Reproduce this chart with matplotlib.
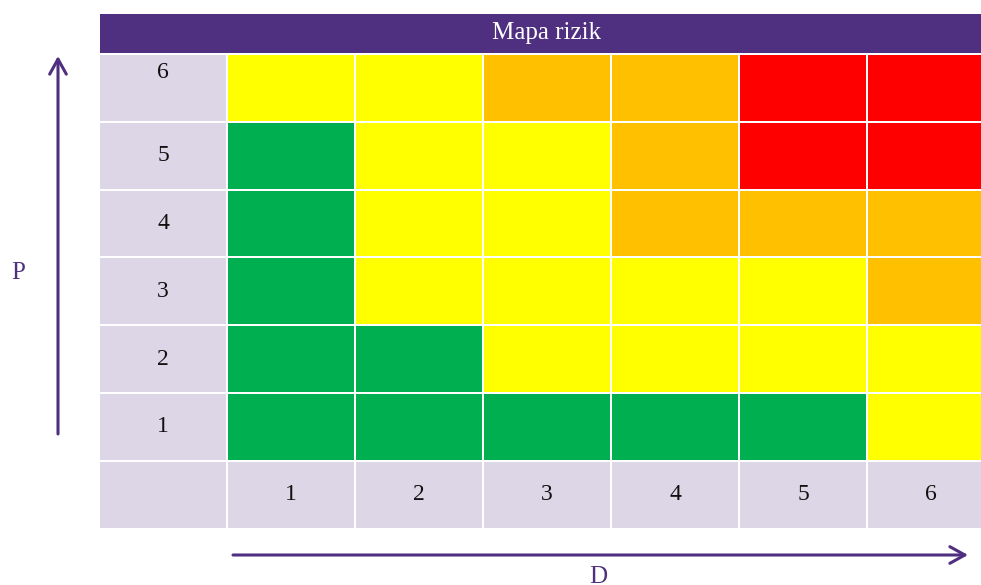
import matplotlib
matplotlib.use("Agg")
import matplotlib.pyplot as plt
from matplotlib.patches import Rectangle, FancyArrowPatch

title = "Mapa rizik"
row_labels = ["6", "5", "4", "3", "2", "1"]
col_labels = ["1", "2", "3", "4", "5", "6"]
y_axis_label = "P"
x_axis_label = "D"

# risk level per cell, rows top (6) to bottom (1)
levels = [
    ["Y", "Y", "O", "O", "R", "R"],
    ["G", "Y", "Y", "O", "R", "R"],
    ["G", "Y", "Y", "O", "O", "O"],
    ["G", "Y", "Y", "Y", "Y", "O"],
    ["G", "G", "Y", "Y", "Y", "Y"],
    ["G", "G", "G", "G", "G", "Y"],
]
palette = {"G": "#00B050", "Y": "#FFFF00", "O": "#FFC000", "R": "#FF0000"}

purple = "#4F2F7F"
lavender = "#DCD6E6"
font = ["Liberation Serif", "DejaVu Serif"]

W, H = 981, 585
fig = plt.figure(figsize=(W / 100, H / 100), dpi=100)
ax = fig.add_axes([0, 0, 1, 1])
ax.set_xlim(0, W)
ax.set_ylim(H, 0)
ax.axis("off")

left, top_hdr, hdr_h = 100, 14, 39
first_w, col_pitch = 126, 128
row_top, row_pitch = 55, 67.8
gap = 2

# header
ax.add_patch(Rectangle((left, top_hdr), W - left, hdr_h, color=purple, lw=0))
ax.text(546, top_hdr + hdr_h / 2, title, color="white",
        ha="center", va="center", fontsize=18, family=font)

n_rows = len(row_labels)
for r, lab in enumerate(row_labels):
    y = row_top + r * row_pitch
    h = row_pitch - gap
    ax.add_patch(Rectangle((left, y), first_w, h, color=lavender, lw=0))
    ty = y + 18 if r == 0 else y + h / 2
    ax.text(left + first_w / 2, ty, lab, ha="center", va="center",
            fontsize=17, family=font, color="#111111")
    for c, lvl in enumerate(levels[r]):
        x = left + first_w + gap + c * col_pitch
        ax.add_patch(Rectangle((x, y), col_pitch - gap, h, color=palette[lvl], lw=0))

# bottom label row
y = row_top + n_rows * row_pitch
h = row_pitch - gap
ax.add_patch(Rectangle((left, y), first_w, h, color=lavender, lw=0))
for c, lab in enumerate(col_labels):
    x = left + first_w + gap + c * col_pitch
    ax.add_patch(Rectangle((x, y), col_pitch - gap, h, color=lavender, lw=0))
    ax.text(x + (col_pitch - gap) / 2, y + h / 2, lab, ha="center", va="center",
            fontsize=17, family=font, color="#111111")

# axis arrows
arrow_kw = dict(arrowstyle="->,head_length=0.9,head_width=0.5", color=purple, lw=2.2,
                mutation_scale=12, shrinkA=0, shrinkB=0)
ax.add_patch(FancyArrowPatch((58, 434), (58, 56), **arrow_kw))
ax.add_patch(FancyArrowPatch((233, 555), (968, 555), **arrow_kw))
ax.text(18, 273, y_axis_label, ha="center", va="center", fontsize=18,
        family=font, color=purple)
ax.text(598, 566, x_axis_label, ha="center", va="top", fontsize=18,
        family=font, color=purple)

fig.savefig("out.png", dpi=100)
